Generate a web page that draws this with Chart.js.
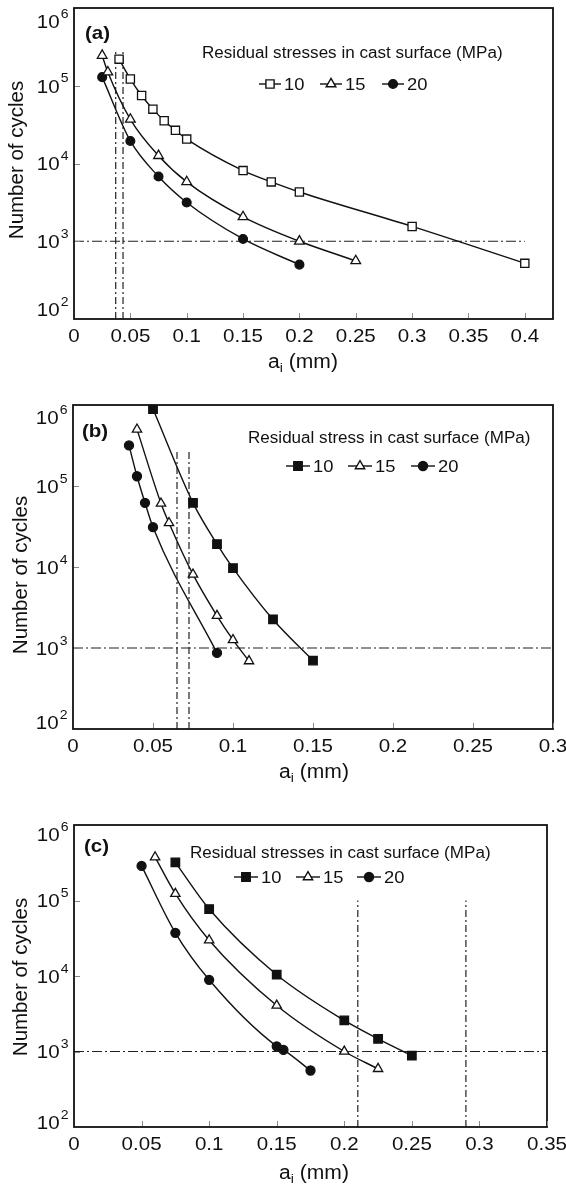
<!DOCTYPE html>
<html>
<head>
<meta charset="utf-8">
<script src="https://cdn.jsdelivr.net/npm/chart.js@4.4.0/dist/chart.umd.min.js"></script>
<style>
  html, body { margin: 0; padding: 0; background: #fff; }
  body { width: 566px; height: 1185px; position: relative; overflow: hidden; }
  canvas { position: absolute; left: 0; }
</style>
</head>
<body>
<canvas id="figA" width="566" height="385" style="top:0"></canvas>
<canvas id="figB" width="566" height="400" style="top:385px"></canvas>
<canvas id="figC" width="566" height="400" style="top:785px"></canvas>
<script>
/* ── Fatigue life vs initial crack size, three cases ── */

/* (a) */
const xA10 = [0.04, 0.05, 0.06, 0.07, 0.08, 0.09, 0.1, 0.15, 0.175, 0.2, 0.3, 0.4];
const yA10 = [2.2e5, 1.22e5, 7.5e4, 5.0e4, 3.55e4, 2.67e4, 2.06e4, 8.1e3, 5.8e3, 4.3e3, 1.55e3, 520];
const xA15 = [0.025, 0.03, 0.05, 0.075, 0.1, 0.15, 0.2, 0.25];
const yA15 = [2.45e5, 1.5e5, 3.7e4, 1.26e4, 5.8e3, 2.06e3, 1.0e3, 560];
const xA20 = [0.025, 0.05, 0.075, 0.1, 0.15, 0.2];
const yA20 = [1.29e5, 1.95e4, 6.8e3, 3.15e3, 1.07e3, 500];
const refXA = [0.037, 0.0435];
const refTopA = 2.8e5;
const xTicksA = [0, 0.05, 0.1, 0.15, 0.2, 0.25, 0.3, 0.35, 0.4];

/* (b) */
const xB10 = [0.05, 0.075, 0.09, 0.1, 0.125, 0.15];
const yB10 = [8.9e5, 6.2e4, 1.92e4, 9.7e3, 2.25e3, 700];
const xB15 = [0.04, 0.055, 0.06, 0.075, 0.09, 0.1, 0.11];
const yB15 = [5.0e5, 6.1e4, 3.5e4, 8.1e3, 2.5e3, 1.26e3, 690];
const xB20 = [0.035, 0.04, 0.045, 0.05, 0.09];
const yB20 = [3.17e5, 1.32e5, 6.2e4, 3.1e4, 870];
const refXB = [0.065, 0.0725];
const refTopB = 2.8e5;
const xTicksB = [0, 0.05, 0.1, 0.15, 0.2, 0.25, 0.3];

/* (c) */
const xC10 = [0.075, 0.1, 0.15, 0.2, 0.225, 0.25];
const yC10 = [3.2e5, 7.7e4, 1.04e4, 2.58e3, 1.47e3, 880];
const xC15 = [0.06, 0.075, 0.1, 0.15, 0.2, 0.225];
const yC15 = [3.75e5, 1.23e5, 2.98e4, 4.07e3, 1.0e3, 590];
const xC20 = [0.05, 0.075, 0.1, 0.15, 0.155, 0.175];
const yC20 = [2.87e5, 3.73e4, 8.9e3, 1.17e3, 1.05e3, 560];
const refXC = [0.21, 0.29];
const refTopC = 1e5;
const xTicksC = [0, 0.05, 0.1, 0.15, 0.2, 0.25, 0.3, 0.35];

const yTicks = [1e2, 1e3, 1e4, 1e5, 1e6];
const limitCycles = 1e3;
const stressLevels = ['10', '15', '20'];

/* ── Estilo ── */
const FONT = '"Liberation Sans", Arial, Helvetica, sans-serif';
const INK = '#111';
const SX = 1.08; // leve alongamento horizontal do texto

function txt(ctx, s, x, y, size, opt) {
  opt = opt || {};
  const sx = opt.sx || SX;
  ctx.save();
  ctx.font = (opt.bold ? 'bold ' : '') + size + 'px ' + FONT;
  ctx.fillStyle = INK;
  ctx.textBaseline = 'alphabetic';
  ctx.textAlign = opt.align || 'left';
  ctx.translate(x, y);
  ctx.scale(sx, 1);
  ctx.fillText(s, 0, 0);
  const w = ctx.measureText(s).width * sx;
  ctx.restore();
  return w;
}

function textWidth(ctx, s, size, sx) {
  ctx.save();
  ctx.font = size + 'px ' + FONT;
  const w = ctx.measureText(s).width * (sx || SX);
  ctx.restore();
  return w;
}

function marker(ctx, style, r, x, y, filled) {
  ctx.beginPath();
  if (style === 'rect') {
    const h = r * Math.SQRT1_2;
    ctx.rect(x - h, y - h, 2 * h, 2 * h);
  } else if (style === 'triangle') {
    ctx.moveTo(x, y - r);
    ctx.lineTo(x + r * 0.866, y + r / 2);
    ctx.lineTo(x - r * 0.866, y + r / 2);
    ctx.closePath();
  } else {
    ctx.arc(x, y, r, 0, Math.PI * 2);
  }
  ctx.fillStyle = filled ? INK : '#fff';
  ctx.fill();
  ctx.stroke();
}

/* ── desenha moldura, ticks internos, rótulos e legenda ── */
function drawFrame(chart, p) {
  const ctx = chart.ctx;
  const a = chart.chartArea;
  const xs = chart.scales.x, ys = chart.scales.y;

  ctx.save();
  ctx.strokeStyle = INK;
  ctx.lineWidth = 1.8;
  ctx.strokeRect(a.left, a.top, a.right - a.left, a.bottom - a.top);

  // ticks internos
  ctx.strokeStyle = '#888';
  ctx.lineWidth = 1;
  xs.ticks.forEach(t => {
    const px = Math.round(xs.getPixelForValue(t.value)) + 0.5;
    if (px <= a.left + 1) return;
    ctx.beginPath(); ctx.moveTo(px, a.bottom - 1); ctx.lineTo(px, a.bottom - 6); ctx.stroke();
  });
  ys.ticks.forEach(t => {
    const py = Math.round(ys.getPixelForValue(t.value)) + 0.5;
    if (py <= a.top + 1 || py >= a.bottom - 1) return;
    ctx.beginPath(); ctx.moveTo(a.left + 1, py); ctx.lineTo(a.left + 6, py); ctx.stroke();
  });
  ctx.restore();

  // rótulos do eixo x
  const fs = 19;
  xs.ticks.forEach(t => {
    const px = xs.getPixelForValue(t.value);
    txt(ctx, String(t.value), px, a.bottom + 23, fs, { align: 'center' });
  });

  // rótulos do eixo y (10 com expoente)
  ys.ticks.forEach(t => {
    let cy = ys.getPixelForValue(t.value);
    if (Math.abs(cy - a.top) < 2) cy += p.edgeShift[0];
    if (Math.abs(cy - a.bottom) < 2) cy += p.edgeShift[1];
    const e = String(Math.round(Math.log10(t.value)));
    const right = a.left - 5.5;
    const we = textWidth(ctx, e, 13);
    txt(ctx, e, right, cy - 3.5, 13, { align: 'right' });
    txt(ctx, '10', right - we - 1, cy + 6.8, fs, { align: 'right' });
  });

  // título do eixo y
  ctx.save();
  ctx.translate(p.yTitle[0], p.yTitle[1]);
  ctx.rotate(-Math.PI / 2);
  ctx.font = '20.5px ' + FONT;
  ctx.fillStyle = INK;
  ctx.textAlign = 'center';
  ctx.textBaseline = 'middle';
  ctx.fillText('Number of cycles', 0, 0);
  ctx.restore();

  // título do eixo x: a_i (mm)
  const w1 = textWidth(ctx, 'a', 19.5), w2 = textWidth(ctx, 'i', 13), w3 = textWidth(ctx, ' (mm)', 19.5);
  let x0 = p.xTitle[0] - (w1 + w2 + w3) / 2;
  const bl = p.xTitle[1] + 6;
  x0 += txt(ctx, 'a', x0, bl, 19.5);
  x0 += txt(ctx, 'i', x0, bl + 4, 13);
  txt(ctx, ' (mm)', x0, bl, 19.5);

  // etiqueta do painel
  txt(ctx, p.tag, p.tagPos[0], p.tagPos[1] + 7, 19, { bold: true });

  // legenda
  txt(ctx, p.legendTitle, p.legendPos[0], p.legendPos[1] + 5.8, 15.8);
  ctx.save();
  ctx.strokeStyle = INK;
  ctx.lineWidth = 1.4;
  p.series.forEach((s, i) => {
    const x = p.entryX[i], y = p.entryY;
    ctx.beginPath(); ctx.moveTo(x, y); ctx.lineTo(x + p.entryLen, y); ctx.stroke();
    marker(ctx, s.style, s.r, x + p.entryLen / 2, y, s.filled);
    txt(ctx, stressLevels[i], x + p.entryLen + 3, y + 6, 17);
  });
  ctx.restore();
}

function pts(xs, ys) { return xs.map((x, i) => ({ x: x, y: ys[i] })); }

function makePanel(p) {
  const canvas = document.getElementById(p.id);
  const H = canvas.height;
  const datasets = p.series.map(s => ({
    data: pts(s.x, s.y),
    showLine: true,
    borderColor: INK,
    borderWidth: 1.4,
    cubicInterpolationMode: 'monotone',
    pointStyle: s.style,
    pointRadius: s.r,
    pointHoverRadius: s.r,
    pointBorderWidth: 1.3,
    pointBorderColor: INK,
    pointBackgroundColor: s.filled ? INK : '#fff',
    fill: false
  }));
  // linhas de referência traço-ponto
  p.refX.forEach(v => datasets.push({
    data: [{ x: v, y: yTicks[0] }, { x: v, y: p.refTop }],
    showLine: true, borderColor: '#222', borderWidth: 1.2,
    borderDash: [7, 3, 2, 3], pointRadius: 0, fill: false
  }));
  datasets.push({
    data: [{ x: 0, y: limitCycles }, { x: p.hEnd, y: limitCycles }],
    showLine: true, borderColor: '#222', borderWidth: 1.2,
    borderDash: [10, 3, 2, 3], pointRadius: 0, fill: false
  });

  return new Chart(canvas.getContext('2d'), {
    type: 'scatter',
    data: { datasets: datasets },
    options: {
      responsive: false,
      animation: false,
      devicePixelRatio: 1,
      layout: { padding: { left: 0, top: p.area.top, right: canvas.width - p.area.right, bottom: 0 } },
      plugins: { legend: { display: false }, tooltip: { enabled: false } },
      scales: {
        x: {
          type: 'linear', min: 0, max: p.xMax,
          grid: { display: false }, border: { display: false },
          ticks: { display: false },
          afterBuildTicks: sc => { sc.ticks = p.xTicks.map(v => ({ value: v })); },
          afterFit: sc => { sc.height = H - p.area.bottom; }
        },
        y: {
          type: 'logarithmic', min: yTicks[0], max: yTicks[yTicks.length - 1],
          grid: { display: false }, border: { display: false },
          ticks: { display: false },
          afterBuildTicks: sc => { sc.ticks = yTicks.map(v => ({ value: v })); },
          afterFit: sc => { sc.width = p.area.left; }
        }
      }
    },
    plugins: [{ id: 'frame', afterDraw: chart => drawFrame(chart, p) }]
  });
}

makePanel({
  id: 'figA', tag: '(a)',
  area: { left: 74, right: 553, top: 8, bottom: 319 },
  xMax: 0.425, xTicks: xTicksA, refX: refXA, refTop: refTopA, hEnd: 0.4,
  series: [
    { x: xA10, y: yA10, style: 'rect', r: 5.8, filled: false },
    { x: xA15, y: yA15, style: 'triangle', r: 5.6, filled: false },
    { x: xA20, y: yA20, style: 'circle', r: 4.4, filled: true }
  ],
  edgeShift: [13, -10],
  yTitle: [17, 160], xTitle: [303, 362],
  tagPos: [85, 32],
  legendTitle: 'Residual stresses in cast surface (MPa)', legendPos: [202, 52],
  entryX: [259, 320, 382], entryY: 84, entryLen: 22
});

makePanel({
  id: 'figB', tag: '(b)',
  area: { left: 73, right: 553, top: 20, bottom: 344 },
  xMax: 0.3, xTicks: xTicksB, refX: refXB, refTop: refTopB, hEnd: 0.3,
  series: [
    { x: xB10, y: yB10, style: 'rect', r: 6, filled: true },
    { x: xB15, y: yB15, style: 'triangle', r: 5.4, filled: false },
    { x: xB20, y: yB20, style: 'circle', r: 4.5, filled: true }
  ],
  edgeShift: [12, -7],
  yTitle: [21, 190], xTitle: [314, 387],
  tagPos: [82, 45],
  legendTitle: 'Residual stress in cast surface (MPa)', legendPos: [248, 52],
  entryX: [286, 348, 411], entryY: 81, entryLen: 24
});

makePanel({
  id: 'figC', tag: '(c)',
  area: { left: 74, right: 547, top: 40, bottom: 342 },
  xMax: 0.35, xTicks: xTicksC, refX: refXC, refTop: refTopC, hEnd: 0.35,
  series: [
    { x: xC10, y: yC10, style: 'rect', r: 6, filled: true },
    { x: xC15, y: yC15, style: 'triangle', r: 5.4, filled: false },
    { x: xC20, y: yC20, style: 'circle', r: 4.5, filled: true }
  ],
  edgeShift: [9, -5],
  yTitle: [21.5, 192], xTitle: [314, 388],
  tagPos: [84, 60],
  legendTitle: 'Residual stresses in cast surface (MPa)', legendPos: [190, 67],
  entryX: [234, 296, 357], entryY: 92, entryLen: 24
});
</script>
</body>
</html>
